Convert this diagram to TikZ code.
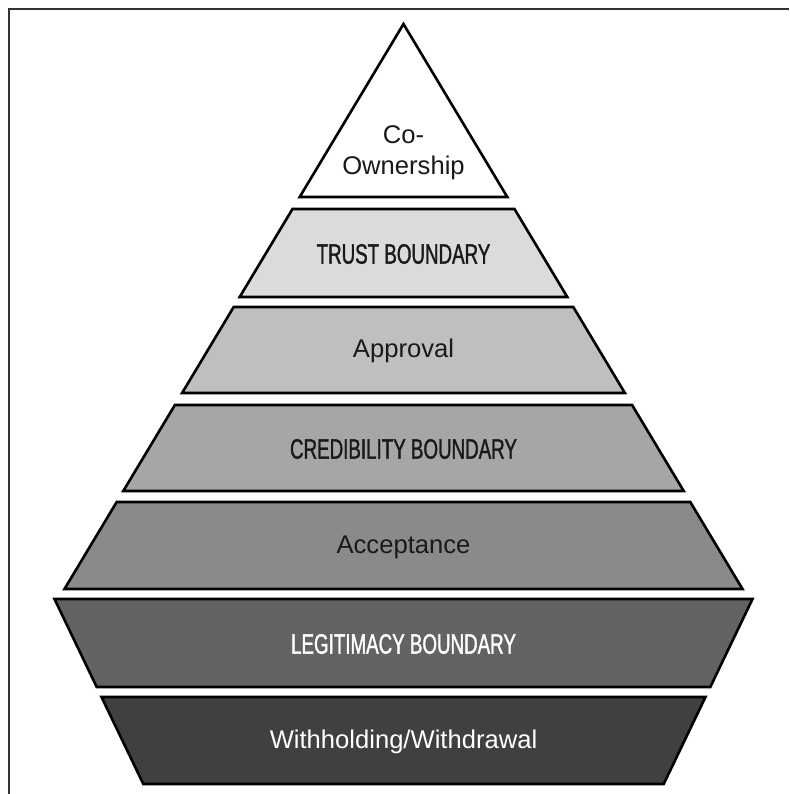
\documentclass[tikz,border=0pt]{standalone}
\usepackage{fontspec}
\setmainfont{Liberation Sans}
\newfontfamily\narrowfont[FakeStretch=0.67,FakeBold=1.2]{Liberation Sans}

\definecolor{trustgray}{gray}{0.86}
\definecolor{approvalgray}{gray}{0.75}
\definecolor{credgray}{gray}{0.65}
\definecolor{acceptgray}{gray}{0.54}
\definecolor{legitgray}{gray}{0.39}
\definecolor{withgray}{gray}{0.25}

\tikzset{
	layer/.style={draw=black, line width=2.6pt, line join=miter},
	softlabel/.style={font=\fontsize{25.6}{31}\selectfont, text=black!90, align=center},
	capslabel/.style={font=\narrowfont\fontsize{28}{32}\selectfont, text=black!90}
}

\begin{document}
\begin{tikzpicture}[x=1pt,y=-1pt]
	\useasboundingbox (0,0) rectangle (789,794);
	% frame
	\draw[line width=2pt, black!80] (789,9) -- (9,9) -- (9,794);
	% upper pyramid
	\filldraw[layer, fill=white] (403.5,24) -- (507.3,197) -- (299.7,197) -- cycle;
	\filldraw[layer, fill=trustgray] (292.5,209) -- (514.5,209) -- (567.3,297) -- (239.7,297) -- cycle;
	\filldraw[layer, fill=approvalgray] (233.7,307) -- (573.3,307) -- (624.9,393) -- (182.1,393) -- cycle;
	\filldraw[layer, fill=credgray] (174.9,405) -- (632.1,405) -- (683.7,491) -- (123.3,491) -- cycle;
	\filldraw[layer, fill=acceptgray] (116.7,502) -- (690.3,502) -- (742.5,589) -- (64.5,589) -- cycle;
	% lower, inverted part
	\filldraw[layer, fill=legitgray] (54.5,599) -- (752.5,599) -- (710.3,687) -- (96.7,687) -- cycle;
	\filldraw[layer, fill=withgray] (101.5,697) -- (705.5,697) -- (663.7,784) -- (143.3,784) -- cycle;
	% labels
	\node[softlabel] (coown) at (403.5,153) {Co-\\Ownership};
	\node[capslabel] (trust) at (403.5,254) {TRUST BOUNDARY};
	\node[softlabel] (approval) at (403.5,351) {Approval};
	\node[capslabel] (cred) at (403.5,449) {CREDIBILITY BOUNDARY};
	\node[softlabel] (accept) at (403.5,547) {Acceptance};
	\node[capslabel, text=white] (legit) at (403.5,644) {LEGITIMACY BOUNDARY};
	\node[softlabel, text=white] (withhold) at (403.5,742) {Withholding/Withdrawal};
\end{tikzpicture}
\end{document}
